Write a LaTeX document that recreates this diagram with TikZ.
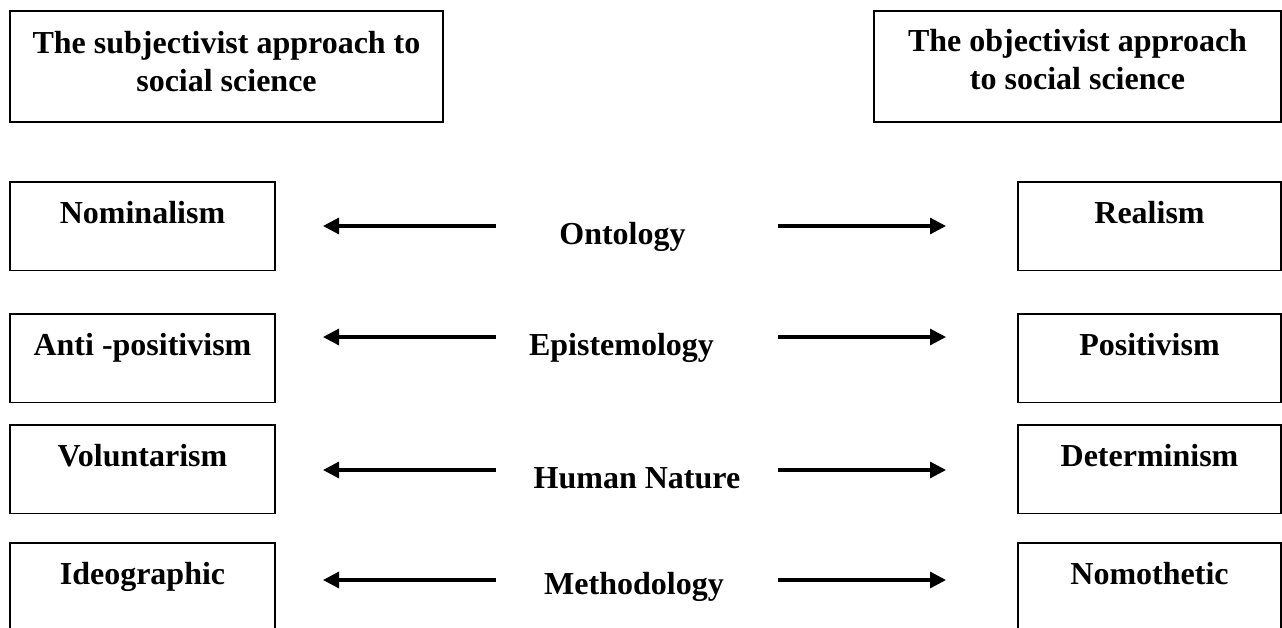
\documentclass[tikz,border=0pt]{standalone}
\usepackage{fontspec}
\setmainfont{Liberation Serif}
\usetikzlibrary{arrows.meta}
\begin{document}
\begin{tikzpicture}[x=1pt,y=-1pt,
  lbl/.style={font=\fontsize{32}{38}\selectfont\bfseries, inner sep=0pt, outer sep=0pt},
  topbox/.style={lbl, draw, line width=1.2pt, anchor=north},
  rowbox/.style={lbl, draw, line width=1.2pt, anchor=north, text height=41.5pt, text depth=47pt},
  leftbox/.style={rowbox, minimum width=265pt},
  rightbox/.style={rowbox, minimum width=263pt},
  mid/.style={lbl, anchor=base},
  arr/.style={line width=3.2pt, -{Triangle[length=16pt,width=16pt]}}]
\useasboundingbox (0,0) rectangle (1282,627);
\fill[white] (0,0) rectangle (1282,627);

% top boxes
\node[topbox, minimum width=433pt, text height=42pt, text depth=69pt] (subj) at (226.5,11)
  {\begin{tabular}[t]{@{}c@{}}The subjectivist approach to\\social science\end{tabular}};
\node[topbox, minimum width=407pt, text height=40pt, text depth=71pt] (obj) at (1077.5,11)
  {\begin{tabular}[t]{@{}c@{}}The objectivist approach\\to social science\end{tabular}};

% left boxes
\node[leftbox] (nom) at (142.5,182) {Nominalism};
\node[leftbox] (anti) at (142.5,314) {Anti -positivism};
\node[leftbox] (vol) at (142.5,425) {Voluntarism};
\node[leftbox] (ideo) at (142.5,543) {Ideographic};

% right boxes
\node[rightbox] (real) at (1149.5,182) {Realism};
\node[rightbox] (pos) at (1149.5,314) {Positivism};
\node[rightbox] (det) at (1149.5,425) {Determinism};
\node[rightbox] (nomo) at (1149.5,543) {Nomothetic};

% middle labels
\node[mid] (onto) at (622.5,244) {Ontology};
\node[mid] (epis) at (621.5,355) {Epistemology};
\node[mid] (human) at (637,488) {Human Nature};
\node[mid] (meth) at (634,594) {Methodology};

% arrow end points
\coordinate (l1s) at (496,226); \coordinate (l1e) at (323,226);
\coordinate (r1s) at (778,226); \coordinate (r1e) at (946,226);
\coordinate (l2s) at (496,337); \coordinate (l2e) at (323,337);
\coordinate (r2s) at (778,337); \coordinate (r2e) at (946,337);
\coordinate (l3s) at (496,470); \coordinate (l3e) at (323,470);
\coordinate (r3s) at (778,470); \coordinate (r3e) at (946,470);
\coordinate (l4s) at (496,580); \coordinate (l4e) at (323,580);
\coordinate (r4s) at (778,580); \coordinate (r4e) at (946,580);

\draw[arr] (l1s) -- (l1e);
\draw[arr] (r1s) -- (r1e);
\draw[arr] (l2s) -- (l2e);
\draw[arr] (r2s) -- (r2e);
\draw[arr] (l3s) -- (l3e);
\draw[arr] (r3s) -- (r3e);
\draw[arr] (l4s) -- (l4e);
\draw[arr] (r4s) -- (r4e);
\end{tikzpicture}
\end{document}
